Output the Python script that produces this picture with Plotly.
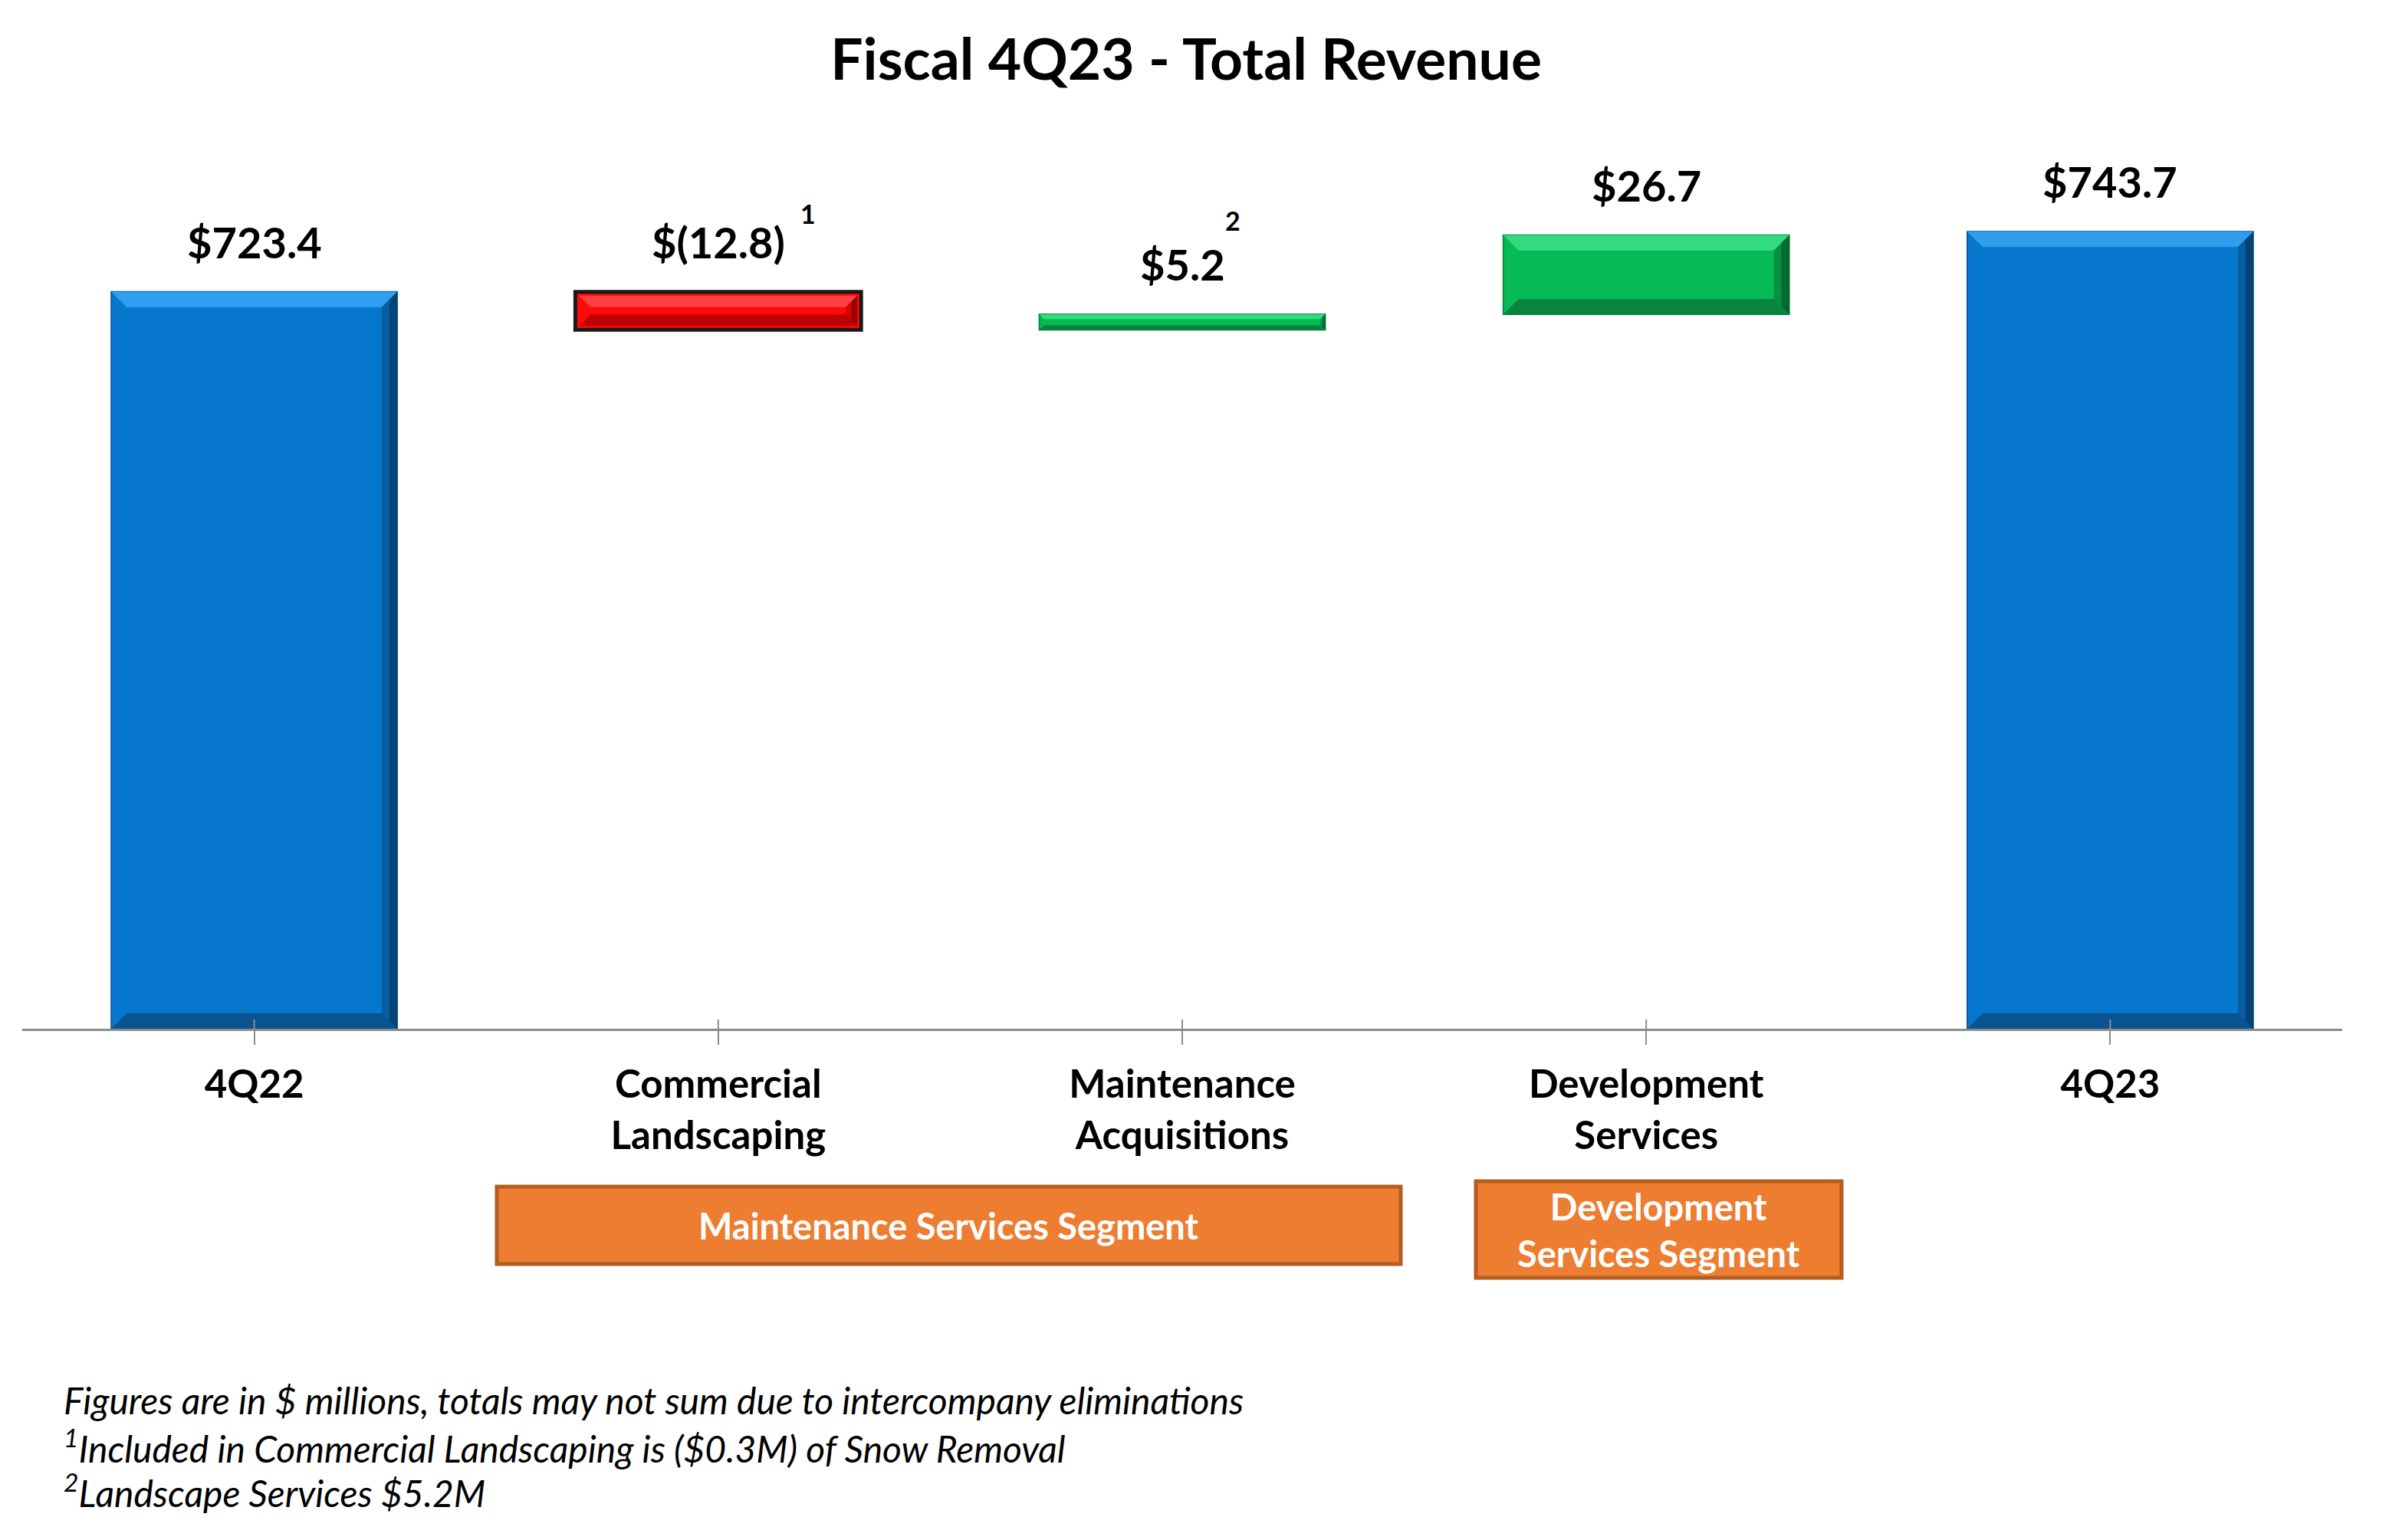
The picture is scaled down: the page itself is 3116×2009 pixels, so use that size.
import plotly.graph_objects as go

# ---- data ----
categories = ["4Q22", "Commercial<br>Landscaping", "Maintenance<br>Acquisitions",
              "Development<br>Services", "4Q23"]
values = [723.4, -12.8, 5.2, 26.7, 743.7]
measures = ["absolute", "relative", "relative", "relative", "absolute"]
value_labels = ["$723.4", "$(12.8)", "$5.2", "$26.7", "$743.7"]
footnote_marks = ["", "1", "2", "", ""]
segments = ["Maintenance Services Segment", "Development<br>Services Segment"]
footnotes = [
    "Figures are in $ millions, totals may not sum due to intercompany eliminations",
    "<sup>1</sup>Included in Commercial Landscaping is ($0.3M) of Snow Removal",
    "<sup>2</sup>Landscape Services $5.2M",
]
title_text = "Fiscal 4Q23 - Total Revenue"

FONT = "Lato"
W, H = 3116, 2009
ML, MR, MT, MB = 29, 61, 181, 667
PW, PH = W - ML - MR, H - MT - MB
YMIN, YMAX = 475, 775
BAR_W = 0.616
PX_PER_Y = PH / (YMAX - YMIN)
PX_PER_X = PW / len(categories)


def px_x(px):
    return (px - ML) / PW


def px_y(py):
    return (H - MB - py) / PH


# bar extents computed from data
tops, bottoms, kinds = [], [], []
cum = 0.0
for v, m in zip(values, measures):
    if m == "absolute":
        cum = v
        tops.append(v)
        bottoms.append(0.0)
        kinds.append("total")
    else:
        prev = cum
        cum += v
        tops.append(max(prev, cum))
        bottoms.append(min(prev, cum))
        kinds.append("inc" if v >= 0 else "dec")

styles = {
    "total": dict(fill="#0677CC", line="#0A5A9C", light="#2E9FEE", dark="#0A4C82", edge="#052E52"),
    "inc": dict(fill="#06BB55", line="#0A8A40", light="#33DB80", dark="#0B7A3C", edge="#03471F"),
    "dec": dict(fill="#FF0A0A", line="#1A1A1A", light="#FF4040", dark="#B00000", edge="#700000"),
}

fig = go.Figure()
fig.add_trace(go.Waterfall(
    x=list(range(len(categories))),
    y=values,
    measure=measures,
    width=BAR_W,
    connector=dict(visible=False),
    increasing=dict(marker=dict(color=styles["inc"]["fill"], line=dict(color=styles["inc"]["line"], width=2))),
    decreasing=dict(marker=dict(color=styles["dec"]["fill"], line=dict(color=styles["dec"]["line"], width=5))),
    totals=dict(marker=dict(color=styles["total"]["fill"], line=dict(color=styles["total"]["line"], width=2))),
    textinfo="none",
    hoverinfo="skip",
))

shapes = []
# bevel effect on each bar (geometry derived from bar extents)
for i, (t, b, k) in enumerate(zip(tops, bottoms, kinds)):
    st = styles[k]
    yb = max(b, YMIN)
    hpx = (t - yb) * PX_PER_Y
    bev = min(20.0, hpx * 0.3)
    dy = bev / PX_PER_Y
    dx = bev / PX_PER_X
    x0, x1 = i - BAR_W / 2, i + BAR_W / 2
    if k == "dec":
        ins = 5 / PX_PER_X
        insy = 5 / PX_PER_Y
        x0 += ins; x1 -= ins; t -= insy; yb += insy
    # top highlight
    shapes.append(dict(type="path", xref="x", yref="y", layer="above", line=dict(width=0),
                       fillcolor=st["light"],
                       path=f"M {x0},{t} L {x1},{t} L {x1-dx},{t-dy} L {x0+dx},{t-dy} Z"))
    # bottom shade
    shapes.append(dict(type="path", xref="x", yref="y", layer="above", line=dict(width=0),
                       fillcolor=st["dark"], opacity=0.85,
                       path=f"M {x0},{yb} L {x1},{yb} L {x1-dx},{yb+dy} L {x0+dx},{yb+dy} Z"))
    # right shade (two layers for a soft gradient)
    shapes.append(dict(type="path", xref="x", yref="y", layer="above", line=dict(width=0),
                       fillcolor=st["edge"], opacity=0.35,
                       path=f"M {x1},{t} L {x1},{yb} L {x1-dx},{yb+dy} L {x1-dx},{t-dy} Z"))
    shapes.append(dict(type="path", xref="x", yref="y", layer="above", line=dict(width=0),
                       fillcolor=st["edge"], opacity=0.55,
                       path=f"M {x1},{t} L {x1},{yb} L {x1-dx/2},{yb+dy/2} L {x1-dx/2},{t-dy/2} Z"))

annotations = []
for i, (lab, top) in enumerate(zip(value_labels, tops)):
    annotations.append(dict(
        x=i, y=top, xref="x", yref="y", text=lab, showarrow=False,
        yanchor="bottom", yshift=30,
        font=dict(family=FONT, size=56, color="black", weight="bold"),
    ))
sup_offsets = {1: (117, 80), 2: (66, 100)}
for i, mark in enumerate(footnote_marks):
    if mark:
        dx_, dy_ = sup_offsets[i]
        annotations.append(dict(
            x=i, y=tops[i], xref="x", yref="y", text=mark, showarrow=False,
            yanchor="bottom", xshift=dx_, yshift=dy_,
            font=dict(family=FONT, size=34, color="black", weight="bold"),
        ))

# segment boxes
boxes = [(648, 1827, 1548, 1649), (1925, 2402, 1541, 1667)]
for (x0, x1, y0, y1), seg in zip(boxes, segments):
    shapes.append(dict(type="rect", xref="paper", yref="paper",
                       x0=px_x(x0), x1=px_x(x1), y0=px_y(y1), y1=px_y(y0),
                       fillcolor="#ED7D31", line=dict(color="#B15E20", width=5),
                       layer="above"))
    annotations.append(dict(
        x=px_x((x0 + x1) / 2), y=px_y((y0 + y1) / 2), xref="paper", yref="paper",
        text=seg, showarrow=False, xanchor="center", yanchor="middle",
        font=dict(family=FONT, size=47, color="white", weight="bold"),
    ))

# small inner ticks at category centers
for i in range(len(categories)):
    shapes.append(dict(type="line", xref="x", yref="paper", x0=i, x1=i,
                       y0=0, y1=12 / PH, line=dict(color="#8C8C8C", width=2)))

# footnotes
foot_y = [1826, 1886, 1944]
for txt, fy in zip(footnotes, foot_y):
    annotations.append(dict(
        x=px_x(81), y=px_y(fy), xref="paper", yref="paper", text=txt,
        showarrow=False, xanchor="left", yanchor="middle",
        font=dict(family=FONT, size=48, color="black", style="italic"),
    ))

fig.update_layout(
    width=W, height=H,
    margin=dict(l=ML, r=MR, t=MT, b=MB),
    paper_bgcolor="white", plot_bgcolor="white",
    showlegend=False,
    title=dict(text=title_text, x=0.4965, xanchor="center", y=1 - 78 / H, yanchor="middle",
               font=dict(family=FONT, size=75, color="black", weight="bold")),
    xaxis=dict(
        tickmode="array", tickvals=list(range(len(categories))), ticktext=categories,
        range=[-0.5, len(categories) - 0.5],
        showline=True, linecolor="#8C8C8C", linewidth=3,
        ticks="outside", tickson="boundaries", ticklen=18, tickwidth=2, tickcolor="#8C8C8C",
        ticklabelstandoff=8,
        tickfont=dict(family=FONT, size=51, color="black", weight="bold"),
        showgrid=False, zeroline=False, fixedrange=True,
    ),
    yaxis=dict(range=[YMIN, YMAX], visible=False, showgrid=False, zeroline=False),
    annotations=annotations,
    shapes=shapes,
)

fig.write_html("out.html")
